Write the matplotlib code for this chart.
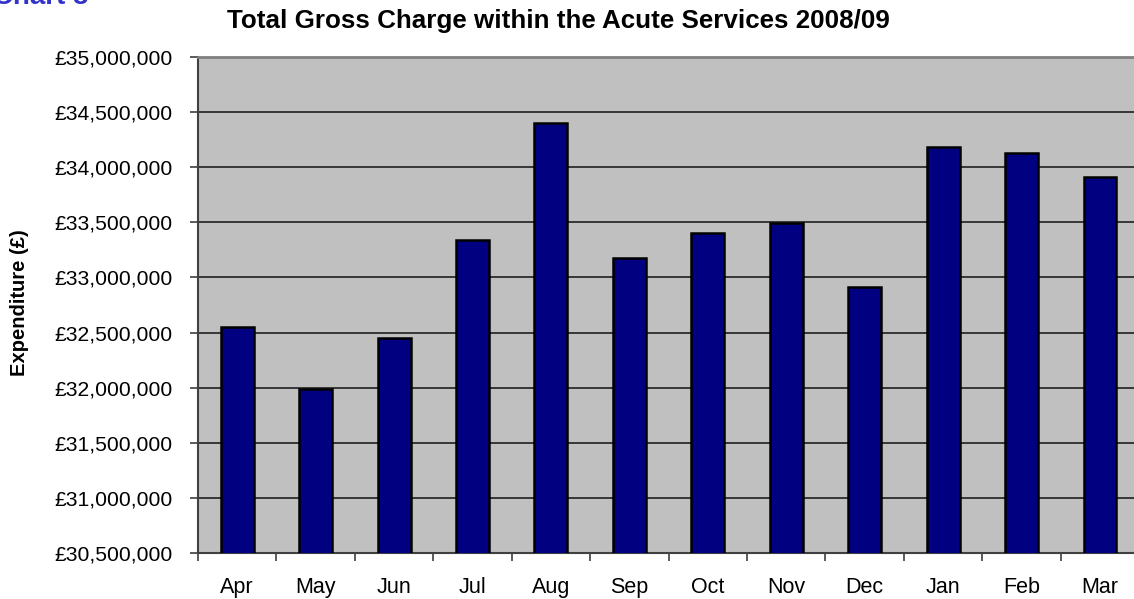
import matplotlib
matplotlib.use("Agg")
import matplotlib.pyplot as plt
from matplotlib.ticker import FuncFormatter

plt.rcParams.update({"font.family": ["Liberation Sans", "DejaVu Sans"]})

months = ["Apr", "May", "Jun", "Jul", "Aug", "Sep", "Oct", "Nov", "Dec", "Jan", "Feb", "Mar"]
gross_charge = [
    32550000, 31990000, 32450000, 33340000, 34400000, 33180000,
    33400000, 33490000, 32910000, 34180000, 34130000, 33910000,
]
y_ticks = list(range(30500000, 35000001, 500000))

fig = plt.figure(figsize=(11.34, 5.99), dpi=100)
ax = fig.add_axes([0.1746, 0.0768, 0.830, 0.828])
ax.set_facecolor("#C0C0C0")

x = list(range(len(months)))
ax.bar(x, gross_charge, width=0.42, color="#000080", edgecolor="black", linewidth=1.8, zorder=3)

ax.set_xlim(-0.5, len(months) - 0.5)
ax.set_ylim(y_ticks[0], y_ticks[-1])
ax.set_yticks(y_ticks)
ax.yaxis.set_major_formatter(FuncFormatter(lambda v, p: "£{:,.0f}".format(v)))
ax.yaxis.grid(True, color="#202020", linewidth=1.2, zorder=1)
ax.set_axisbelow(True)

# month labels centred under bars, ticks on category boundaries
ax.set_xticks(x)
ax.set_xticklabels(months)
ax.set_xticks([i - 0.5 for i in range(len(months) + 1)], minor=True)
ax.tick_params(axis="x", which="major", length=0, pad=17, labelsize=15.5)
ax.tick_params(axis="x", which="minor", length=6, width=1.2, color="#404040")
ax.tick_params(axis="y", length=6, width=1.2, color="#404040", labelsize=15.2, pad=12)

ax.spines["right"].set_visible(False)
ax.spines["top"].set_color("#808080")
ax.spines["top"].set_linewidth(2)
for side in ["left", "bottom"]:
    ax.spines[side].set_color("#404040")
    ax.spines[side].set_linewidth(1.5)

fig.text(20 / 1134, 1 - 303 / 599, "Expenditure (£)", rotation=90,
         ha="center", va="center", fontsize=14.5, fontweight="bold")
fig.text(558 / 1134, 1 - 21 / 599, "Total Gross Charge within the Acute Services 2008/09",
         ha="center", va="center", fontsize=18.7, fontweight="bold")
fig.text(-0.006, 1 - 4.5 / 599, "Chart 3", ha="left", va="baseline",
         fontsize=20, fontweight="bold", color="#3333CC")

fig.savefig("out.png", dpi=100)
